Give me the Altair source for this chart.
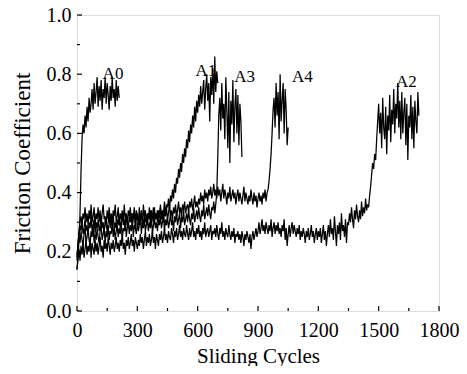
import altair as alt
import pandas as pd

# Sampling interval of the friction records (sliding cycles between readings)
STEP = 5

# Friction coefficient readings, one every STEP cycles starting at cycle 0
a0 = [0.14, 0.18, 0.24, 0.33, 0.47, 0.58, 0.63, 0.60, 0.66, 0.62,
      0.69, 0.64, 0.72, 0.67, 0.70, 0.75, 0.68, 0.77, 0.70, 0.74,
      0.79, 0.69, 0.76, 0.71, 0.78, 0.68, 0.75, 0.72, 0.79, 0.70,
      0.77, 0.73, 0.68, 0.76, 0.71, 0.79, 0.72, 0.75, 0.69, 0.78,
      0.71, 0.76, 0.72]

a1 = [0.17, 0.22, 0.27, 0.30, 0.32, 0.29, 0.33, 0.31, 0.35, 0.30,
      0.33, 0.29, 0.34, 0.31, 0.36, 0.30, 0.32, 0.35, 0.29, 0.33,
      0.31, 0.35, 0.30, 0.34, 0.29, 0.33, 0.36, 0.31, 0.32, 0.29,
      0.34, 0.31, 0.35, 0.30, 0.33, 0.29, 0.34, 0.32, 0.36, 0.30,
      0.32, 0.35, 0.29, 0.33, 0.31, 0.34, 0.30, 0.36, 0.31, 0.33,
      0.29, 0.34, 0.32, 0.35, 0.30, 0.33, 0.31, 0.35, 0.29, 0.34,
      0.32, 0.30, 0.35, 0.31, 0.33, 0.29, 0.36, 0.32, 0.34, 0.30,
      0.33, 0.31, 0.35, 0.29, 0.34, 0.32, 0.30, 0.35, 0.31, 0.33,
      0.30, 0.34, 0.32, 0.36, 0.31, 0.34, 0.33, 0.37, 0.32, 0.36,
      0.35, 0.38, 0.34, 0.39, 0.37, 0.41, 0.38, 0.43, 0.40, 0.45,
      0.43, 0.48, 0.45, 0.50, 0.47, 0.53, 0.50, 0.55, 0.52, 0.58,
      0.55, 0.61, 0.57, 0.63, 0.60, 0.66, 0.62, 0.69, 0.64, 0.71,
      0.67, 0.73, 0.69, 0.76, 0.70, 0.74, 0.78, 0.68, 0.75, 0.80,
      0.71, 0.77, 0.64, 0.79, 0.73, 0.82, 0.70, 0.86, 0.74, 0.81,
      0.77]

a3 = [0.19, 0.22, 0.25, 0.23, 0.27, 0.24, 0.22, 0.26, 0.28, 0.23,
      0.25, 0.28, 0.24, 0.22, 0.27, 0.25, 0.29, 0.23, 0.26, 0.24,
      0.28, 0.25, 0.23, 0.27, 0.29, 0.24, 0.26, 0.28, 0.23, 0.27,
      0.25, 0.29, 0.24, 0.27, 0.26, 0.30, 0.25, 0.28, 0.24, 0.27,
      0.29, 0.25, 0.28, 0.26, 0.30, 0.24, 0.28, 0.27, 0.31, 0.25,
      0.28, 0.30, 0.26, 0.29, 0.27, 0.31, 0.25, 0.29, 0.28, 0.26,
      0.30, 0.27, 0.29, 0.32, 0.26, 0.30, 0.28, 0.31, 0.27, 0.29,
      0.31, 0.27, 0.30, 0.28, 0.32, 0.26, 0.29, 0.31, 0.28, 0.30,
      0.27, 0.31, 0.29, 0.32, 0.28, 0.30, 0.33, 0.27, 0.31, 0.29,
      0.32, 0.28, 0.30, 0.33, 0.29, 0.31, 0.27, 0.32, 0.30, 0.34,
      0.29, 0.31, 0.33, 0.28, 0.32, 0.30, 0.34, 0.29, 0.31, 0.33,
      0.30, 0.34, 0.31, 0.29, 0.33, 0.31, 0.35, 0.30, 0.32, 0.34,
      0.31, 0.35, 0.32, 0.30, 0.34, 0.32, 0.36, 0.31, 0.33, 0.35,
      0.32, 0.36, 0.33, 0.31, 0.35, 0.34, 0.37, 0.33, 0.36, 0.40,
      0.52, 0.66, 0.72, 0.61, 0.77, 0.65, 0.70, 0.58, 0.79, 0.68,
      0.55, 0.74, 0.50, 0.71, 0.63, 0.78, 0.57, 0.69, 0.75, 0.60,
      0.73, 0.56, 0.70, 0.64, 0.52]

a4 = [0.18, 0.23, 0.26, 0.29, 0.27, 0.30, 0.26, 0.28, 0.31, 0.27,
      0.29, 0.26, 0.30, 0.28, 0.32, 0.27, 0.29, 0.31, 0.26, 0.30,
      0.28, 0.31, 0.27, 0.29, 0.32, 0.28, 0.30, 0.26, 0.31, 0.29,
      0.27, 0.30, 0.32, 0.28, 0.31, 0.29, 0.33, 0.27, 0.30, 0.28,
      0.31, 0.29, 0.32, 0.28, 0.30, 0.33, 0.29, 0.31, 0.27, 0.32,
      0.30, 0.28, 0.32, 0.30, 0.33, 0.29, 0.31, 0.34, 0.28, 0.31,
      0.33, 0.29, 0.32, 0.30, 0.34, 0.31, 0.29, 0.33, 0.30, 0.32,
      0.29, 0.33, 0.31, 0.34, 0.30, 0.32, 0.35, 0.30, 0.33, 0.31,
      0.34, 0.30, 0.32, 0.35, 0.31, 0.33, 0.30, 0.34, 0.32, 0.35,
      0.31, 0.33, 0.36, 0.32, 0.34, 0.31, 0.35, 0.33, 0.36, 0.32,
      0.34, 0.37, 0.33, 0.35, 0.32, 0.36, 0.34, 0.37, 0.33, 0.35,
      0.36, 0.33, 0.37, 0.35, 0.38, 0.34, 0.36, 0.39, 0.35, 0.37,
      0.35, 0.38, 0.36, 0.40, 0.37, 0.39, 0.36, 0.41, 0.38, 0.40,
      0.37, 0.41, 0.39, 0.42, 0.38, 0.40, 0.43, 0.39, 0.41, 0.38,
      0.42, 0.39, 0.41, 0.37, 0.40, 0.43, 0.38, 0.41, 0.39, 0.36,
      0.40, 0.38, 0.42, 0.37, 0.39, 0.41, 0.38, 0.40, 0.36, 0.39,
      0.41, 0.37, 0.40, 0.38, 0.36, 0.39, 0.42, 0.37, 0.40, 0.38,
      0.36, 0.39, 0.37, 0.41, 0.38, 0.36, 0.40, 0.37, 0.39, 0.35,
      0.38, 0.40, 0.37, 0.39, 0.36, 0.40, 0.38, 0.41, 0.37, 0.40,
      0.41, 0.44, 0.48, 0.53, 0.60, 0.68, 0.72, 0.62, 0.77, 0.66,
      0.74, 0.58, 0.80, 0.64, 0.71, 0.77, 0.60, 0.75, 0.68, 0.56,
      0.62]

a2 = [0.14, 0.18, 0.21, 0.17, 0.22, 0.19, 0.23, 0.18, 0.21, 0.24,
      0.19, 0.22, 0.20, 0.25, 0.18, 0.23, 0.21, 0.19, 0.24, 0.20,
      0.23, 0.19, 0.22, 0.25, 0.20, 0.22, 0.18, 0.24, 0.21, 0.23,
      0.20, 0.25, 0.22, 0.19, 0.23, 0.21, 0.24, 0.20, 0.22, 0.25,
      0.21, 0.23, 0.20, 0.24, 0.22, 0.26, 0.21, 0.23, 0.19, 0.24,
      0.22, 0.25, 0.21, 0.23, 0.26, 0.22, 0.24, 0.20, 0.25, 0.23,
      0.21, 0.24, 0.22, 0.26, 0.23, 0.25, 0.21, 0.24, 0.27, 0.22,
      0.25, 0.23, 0.26, 0.22, 0.24, 0.27, 0.23, 0.25, 0.21, 0.26,
      0.24, 0.22, 0.26, 0.24, 0.27, 0.23, 0.25, 0.28, 0.24, 0.26,
      0.23, 0.27, 0.25, 0.24, 0.28, 0.26, 0.23, 0.27, 0.25, 0.28,
      0.24, 0.26, 0.29, 0.25, 0.27, 0.24, 0.28, 0.26, 0.25, 0.29,
      0.26, 0.24, 0.28, 0.25, 0.27, 0.30, 0.25, 0.27, 0.24, 0.28,
      0.26, 0.29, 0.25, 0.27, 0.24, 0.28, 0.26, 0.30, 0.25, 0.27,
      0.28, 0.25, 0.27, 0.29, 0.24, 0.27, 0.26, 0.28, 0.25, 0.29,
      0.26, 0.24, 0.28, 0.26, 0.30, 0.25, 0.27, 0.24, 0.28, 0.26,
      0.25, 0.29, 0.26, 0.24, 0.27, 0.25, 0.28, 0.23, 0.26, 0.25,
      0.27, 0.24, 0.26, 0.23, 0.27, 0.25, 0.22, 0.26, 0.24, 0.27,
      0.25, 0.23, 0.26, 0.21, 0.25, 0.27, 0.24, 0.26, 0.28, 0.25,
      0.27, 0.30, 0.26, 0.28, 0.31, 0.27, 0.29, 0.26, 0.30, 0.28,
      0.26, 0.29, 0.27, 0.31, 0.25, 0.28, 0.30, 0.26, 0.29, 0.27,
      0.30, 0.26, 0.28, 0.25, 0.29, 0.27, 0.31, 0.24, 0.28, 0.22,
      0.26, 0.29, 0.25, 0.28, 0.30, 0.26, 0.29, 0.27, 0.25, 0.28,
      0.26, 0.29, 0.24, 0.27, 0.25, 0.28, 0.26, 0.23, 0.27, 0.25,
      0.28, 0.24, 0.26, 0.29, 0.25, 0.27, 0.23, 0.26, 0.28, 0.24,
      0.27, 0.25, 0.28, 0.23, 0.26, 0.29, 0.24, 0.27, 0.22, 0.26,
      0.29, 0.25, 0.31, 0.26, 0.28, 0.24, 0.32, 0.27, 0.22, 0.29,
      0.26, 0.30, 0.24, 0.33, 0.27, 0.29, 0.25, 0.31, 0.23, 0.30,
      0.29, 0.33, 0.30, 0.35, 0.31, 0.28, 0.34, 0.31, 0.36, 0.32,
      0.30, 0.34, 0.31, 0.37, 0.32, 0.35, 0.33, 0.38, 0.34, 0.36,
      0.35, 0.39, 0.42, 0.46, 0.50, 0.48, 0.53, 0.51, 0.58, 0.64,
      0.70, 0.60, 0.67, 0.55, 0.72, 0.62, 0.58, 0.69, 0.53, 0.66,
      0.61, 0.73, 0.57, 0.68, 0.63, 0.75, 0.60, 0.70, 0.65, 0.77,
      0.62, 0.71, 0.58, 0.74, 0.60, 0.67, 0.72, 0.56, 0.70, 0.51,
      0.66, 0.62, 0.73, 0.58, 0.69, 0.55, 0.71, 0.64, 0.60, 0.74,
      0.66]

series_names = ["A0", "A1", "A3", "A4", "A2"]
series_values = [a0, a1, a3, a4, a2]

# Curve labels
label_text = ["A0", "A1", "A3", "A4", "A2"]
label_cycles = [179, 641, 833, 1121, 1638]
label_mu = [0.80, 0.81, 0.79, 0.79, 0.775]

# Axis ticks
x_major = [0, 300, 600, 900, 1200, 1500, 1800]
x_minor = [150, 450, 750, 1050, 1350, 1650]
y_major = [0.0, 0.2, 0.4, 0.6, 0.8, 1.0]
y_minor = [0.1, 0.3, 0.5, 0.7, 0.9]

W, H = 362, 296
FONT = "Liberation Serif"

rows = []
for name, vals in zip(series_names, series_values):
    for i, v in enumerate(vals):
        rows.append({"series": name, "cycles": i * STEP, "mu": v})
df = pd.DataFrame(rows)

xscale = alt.Scale(domain=[0, 1800], nice=False)
yscale = alt.Scale(domain=[0, 1], nice=False)

xaxis = alt.Axis(values=x_major, ticks=False, grid=False, domain=False,
                 format="d",
                 labelFont=FONT, labelFontSize=20, labelColor="black",
                 labelPadding=9, labelFlush=False,
                 title="Sliding Cycles", titleFont=FONT, titleFontSize=21,
                 titleFontWeight="normal", titleColor="black",
                 titleBaseline="alphabetic", titleY=51)
yaxis = alt.Axis(values=y_major, ticks=False, grid=False, domain=False,
                 format=".1f",
                 labelFont=FONT, labelFontSize=20, labelColor="black",
                 labelPadding=6, labelFlush=False,
                 title="Friction Coefficient", titleFont=FONT, titleFontSize=23,
                 titleFontWeight="normal", titleColor="black", titlePadding=12)

lines = alt.Chart(df).mark_line(color="black", strokeWidth=1.25).encode(
    x=alt.X("cycles:Q", scale=xscale, axis=xaxis),
    y=alt.Y("mu:Q", scale=yscale, axis=yaxis),
    detail="series:N",
)

labels_df = pd.DataFrame({"cycles": label_cycles, "mu": label_mu, "label": label_text})
labels = alt.Chart(labels_df).mark_text(font=FONT, fontSize=17, color="black").encode(
    x="cycles:Q", y="mu:Q", text="label:N"
)

xmaj = alt.Chart(pd.DataFrame({"cycles": x_major})).mark_rule(color="black", strokeWidth=1.2).encode(
    x="cycles:Q", y=alt.value(H), y2=alt.value(H - 5))
xmin = alt.Chart(pd.DataFrame({"cycles": x_minor})).mark_rule(color="black", strokeWidth=1.2).encode(
    x="cycles:Q", y=alt.value(H), y2=alt.value(H - 3))
ymaj = alt.Chart(pd.DataFrame({"mu": y_major})).mark_rule(color="black", strokeWidth=1.2).encode(
    y="mu:Q", x=alt.value(0), x2=alt.value(5))
ymin = alt.Chart(pd.DataFrame({"mu": y_minor})).mark_rule(color="black", strokeWidth=1.2).encode(
    y="mu:Q", x=alt.value(0), x2=alt.value(3))

chart = alt.layer(lines, labels, xmaj, xmin, ymaj, ymin).properties(
    width=W, height=H,
    autosize=alt.AutoSizeParams(type="none"),
    padding={"left": 69, "top": 7, "right": 20, "bottom": 55},
).configure_view(stroke="black", strokeWidth=1.5).configure(background="white")

chart.save("out.html", embed_options={"renderer": "svg", "actions": False})
